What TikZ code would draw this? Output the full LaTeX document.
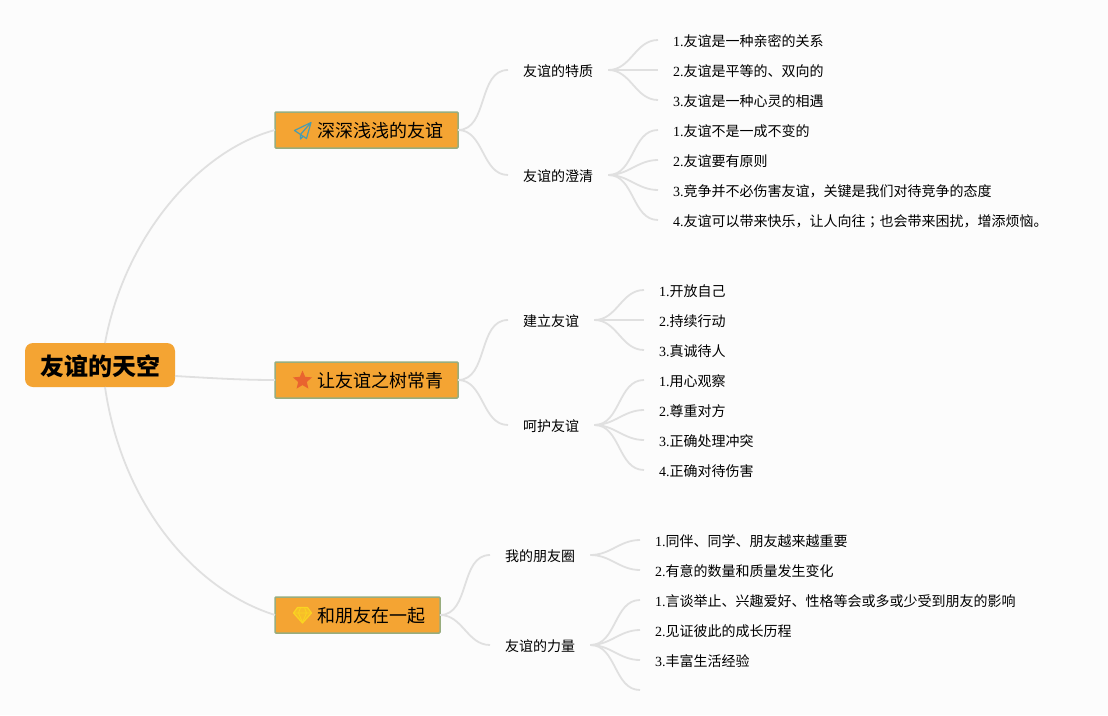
\documentclass[tikz,border=0pt]{standalone}
\usepackage{fontspec}
\usetikzlibrary{shapes.geometric}
\setmainfont{Liberation Serif}
\newfontfamily\cjk{Noto Sans CJK SC}
\newfontfamily\cjktc{Noto Sans CJK TC}
\newcommand{\nm}[1]{{\rmfamily #1}}
\definecolor{boxfill}{HTML}{F4A433}
\definecolor{boxline}{HTML}{98AD7E}
\definecolor{linkgray}{HTML}{E0E0E0}
\definecolor{planeblue}{HTML}{4A9CB0}
\definecolor{stared}{HTML}{E9642F}
\definecolor{gemyellow}{HTML}{FAD421}
\tikzset{
  rootbox/.style={fill=boxfill,rounded corners=8,outer sep=0,inner xsep=15,inner ysep=0,text height=22,text depth=0.2,minimum height=44,anchor=west,font=\cjk\fontsize{24}{24}\selectfont\bfseries},
  branch/.style={fill=boxfill,draw=boxline,line width=1.5,rounded corners=1,outer sep=0,inner xsep=15,inner ysep=0,text height=16,text depth=0.6,minimum height=36,anchor=west,font=\cjk\fontsize{18}{18}\selectfont},
  sub/.style={inner xsep=15,inner ysep=0,text height=13.2,text depth=0.4,anchor=west,font=\cjk\fontsize{14}{14}\selectfont},
  link/.style={draw=linkgray,line width=1.8,out=0,in=180},
}
\begin{document}
\begin{tikzpicture}[x=1pt,y=-1pt]
  \useasboundingbox[fill=black!1] (0,0) rectangle (1108,715);
  % center and main topics
  \node[rootbox] (root) at (25,365) {友谊的天空};
  \node[branch] (deep) at (275,130) {\hspace{27pt}深深浅浅的友谊};
  \node[branch] (tree) at (275,380) {\hspace{27pt}让友谊之树常青};
  \node[branch] (ring) at (275,615) {\hspace{27pt}和朋友在一起};
  % icons
  \draw[draw=planeblue,line width=1.2,line join=round] (294.5,130.5) -- (311,122.5) -- (306.5,138.5) -- (300.5,134.5) -- cycle (300.5,134.5) -- (311,122.5) (300.5,134.5) -- (300.5,139) -- (303,136.5);
  \node[star,star points=5,star point ratio=2.2,fill=stared,inner sep=0,minimum size=20] (starmark) at (302.5,380.5) {};
  \draw[draw=gemyellow,fill=gemyellow!55!boxfill,line width=1.2,line join=round] (297.5,607.5) -- (307.5,607.5) -- (311.5,613) -- (302.5,623) -- (293.5,613) -- cycle;
  \draw[gemyellow,line width=.8] (293.5,613) -- (311.5,613) (298.5,613) -- (302.5,622.5) -- (306.5,613) (298.5,613) -- (300.5,607.5) (304.5,607.5) -- (306.5,613);
  % second level
  \node[sub] (quality) at (508,70) {友谊的特质};
  \node[sub] (clarify) at (508,175) {友谊的澄清};
  \node[sub] (build) at (508,320) {建立友谊};
  \node[sub] (care) at (508,425) {呵护友谊};
  \node[sub] (circle) at (490,555) {我的朋友圈};
  \node[sub] (power) at (490,645) {友谊的力量};
  % leaves
  \node[sub] (q1) at (658,40) {\nm{1.}友谊是一种亲密的关系};
  \node[sub] (q2) at (658,70) {\nm{2.}友谊是平等的、双向的};
  \node[sub] (q3) at (658,100) {\nm{3.}友谊是一种心灵的相遇};
  \node[sub] (c1) at (658,130) {\nm{1.}友谊不是一成不变的};
  \node[sub] (c2) at (658,160) {\nm{2.}友谊要有原则};
  \node[sub] (c3) at (658,190) {\nm{3.}竞争并不必伤害友谊，关键是我们对待竞争的态度};
  \node[sub] (c4) at (658,220) {\nm{4.}友谊可以带来快乐，让人向往{\cjktc ；}也会带来困扰，增添烦恼。};
  \node[sub] (b1) at (644,290) {\nm{1.}开放自己};
  \node[sub] (b2) at (644,320) {\nm{2.}持续行动};
  \node[sub] (b3) at (644,350) {\nm{3.}真诚待人};
  \node[sub] (k1) at (644,380) {\nm{1.}用心观察};
  \node[sub] (k2) at (644,410) {\nm{2.}尊重对方};
  \node[sub] (k3) at (644,440) {\nm{3.}正确处理冲突};
  \node[sub] (k4) at (644,470) {\nm{4.}正确对待伤害};
  \node[sub] (r1) at (640,540) {\nm{1.}同伴、同学、朋友越来越重要};
  \node[sub] (r2) at (640,570) {\nm{2.}有意的数量和质量发生变化};
  \node[sub] (p1) at (640,600) {\nm{1.}言谈举止、兴趣爱好、性格等会或多或少受到朋友的影响};
  \node[sub] (p2) at (640,630) {\nm{2.}见证彼此的成长历程};
  \node[sub] (p3) at (640,660) {\nm{3.}丰富生活经验};
  \coordinate (p4) at (640,690);
  \coordinate (roottop) at (105,343);
  \coordinate (rootbot) at (105,387);
  \coordinate (rootright) at (175,376);
  % connectors
  \draw[draw=linkgray,line width=1.8] (roottop) .. controls (125,235) and (200,150) .. (deep.west);
  \draw[draw=linkgray,line width=1.8] (rootright) .. controls (210,378) and (240,380) .. (tree.west);
  \draw[draw=linkgray,line width=1.8] (rootbot) .. controls (122,505) and (195,590) .. (ring.west);
  \foreach \a/\b in {deep/quality,deep/clarify,tree/build,tree/care,ring/circle,ring/power,
    quality/q1,quality/q2,quality/q3,clarify/c1,clarify/c2,clarify/c3,clarify/c4,
    build/b1,build/b2,build/b3,care/k1,care/k2,care/k3,care/k4,
    circle/r1,circle/r2,power/p1,power/p2,power/p3}
    \draw[link] (\a.east) to (\b.west);
  \draw[link] (power.east) to (p4);
\end{tikzpicture}
\end{document}
